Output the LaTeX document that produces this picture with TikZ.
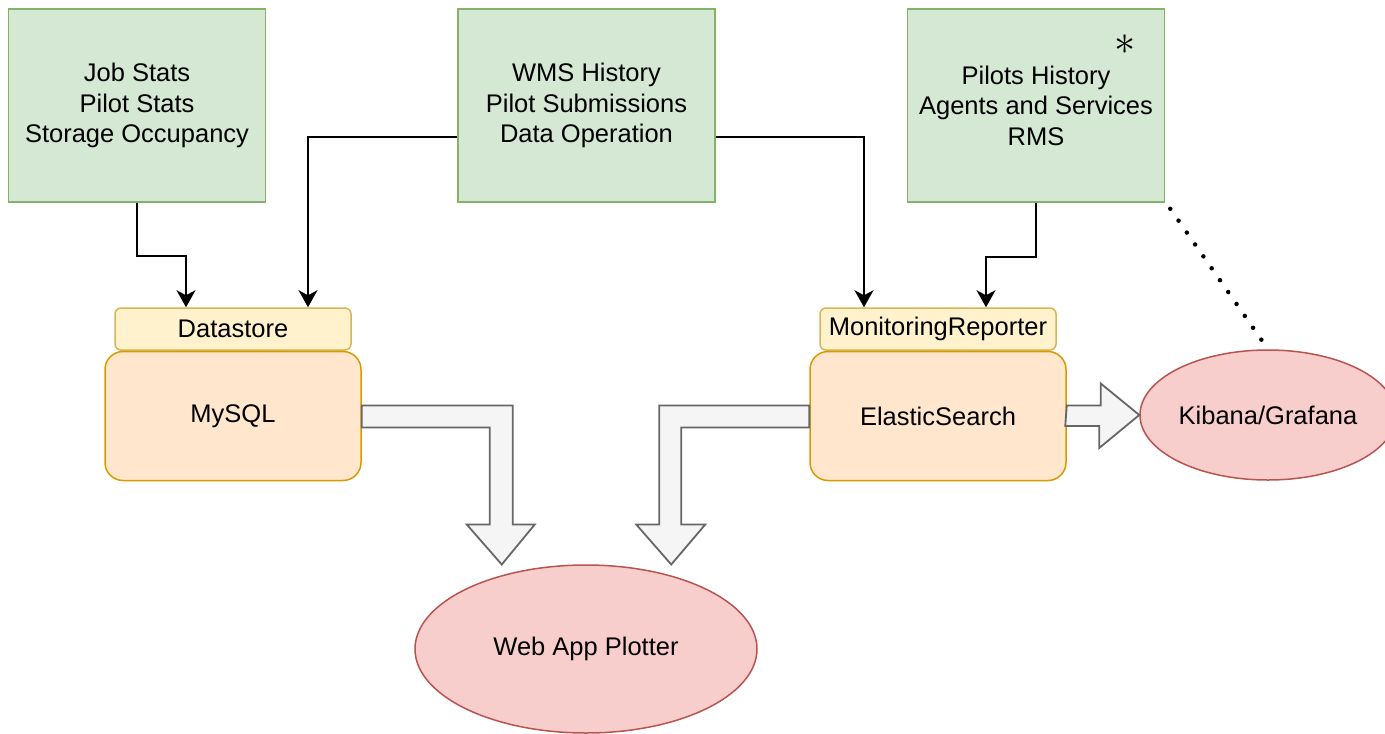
\documentclass[tikz,border=0pt]{standalone}
\usepackage{fontspec}
\setmainfont{Liberation Sans}
\usetikzlibrary{arrows.meta,positioning,shapes.geometric,calc}
\definecolor{grfill}{HTML}{D5E8D4}
\definecolor{grline}{HTML}{82B366}
\definecolor{ylfill}{HTML}{FFF2CC}
\definecolor{ylline}{HTML}{D6B656}
\definecolor{orfill}{HTML}{FFE6CC}
\definecolor{orline}{HTML}{D79B00}
\definecolor{rdfill}{HTML}{F8CECC}
\definecolor{rdline}{HTML}{B85450}
\definecolor{gyfill}{HTML}{F5F5F5}
\definecolor{gyline}{HTML}{666666}

\begin{document}
\begin{tikzpicture}
    [x=1pt, y=-1pt, font=\fontsize{25.5}{30.5}\selectfont,
    % STYLES
    % The source style is used for the green boxes with the data sources
    source/.style={rectangle, draw=grline, fill=grfill, line width=1.5pt, minimum width=257pt, minimum height=193pt, align=center, inner sep=0pt},
    % The tag style is used for the small label on top of each store
    tag/.style={rectangle, rounded corners=6pt, draw=ylline, fill=ylfill, line width=1.5pt, minimum width=236pt, minimum height=42pt, inner sep=0pt},
    % The store style is used for the databases
    store/.style={rectangle, rounded corners=18pt, draw=orline, fill=orfill, line width=1.5pt, minimum width=256pt, minimum height=129pt, inner sep=0pt},
    % The viewer style is used for the ellipses
    viewer/.style={ellipse, draw=rdline, fill=rdfill, line width=1.5pt, inner sep=0pt},
    link/.style={line width=1.8pt, -{Stealth[length=17pt, width=19pt, inset=5pt]}},
    fat/.style={draw=gyline, fill=gyfill, line width=1.8pt, line join=miter}]

    \useasboundingbox (0,0) rectangle (1385,734);

    % Draw sources
    \node [source] at (137,105.5) (a) {Job Stats\\Pilot Stats\\Storage Occupancy};
    \node [source, right=191pt of a] (b) {WMS History\\Pilot Submissions\\Data Operation};
    \node [source, right=191pt of b] (c) {Pilots History\\Agents and Services\\RMS};
    \node at (1125,45) (star) {\scalebox{1.7}{$\ast$}};

    % Draw stores
    \node [tag] at (233,329) (ds) {Datastore};
    \node [store, below=0pt of ds] (mysql) {MySQL};
    \node [tag] at (938,329) (mr) {MonitoringReporter};
    \node [store, below=0pt of mr] (es) {ElasticSearch};

    % Draw viewers
    \node [viewer, minimum width=342pt, minimum height=168pt] at (586,649) (plot) {Web App Plotter};
    \node [viewer, minimum width=256pt, minimum height=130pt] at (1268,415) (kib) {Kibana/Grafana};

    % Connectors
    \draw[link] (a.south) -- ++(0,53) -| ([xshift=-47pt]ds.north);
    \draw[link] ([yshift=-31.5pt]b.west) -| ([xshift=75pt]ds.north);
    \draw[link] ([yshift=-31.5pt]b.east) -| ([xshift=-74pt]mr.north);
    \draw[link] (c.south) -- ++(0,54) -| ([xshift=48pt]mr.north);
    \draw[line width=4.5pt, line cap=round, dash pattern=on 0pt off 14.5pt]
        ([shift={(5pt,-6pt)}]c.south east) -- (kib.north);

    % Fat arrows
    \draw[fat] ([yshift=10.5pt]mysql.east) -- ++(151,0) -- ++(0,119) -- ++(22,0)
        -- ++(-33,40) -- ++(-35,-40) -- ++(23,0) -- ++(0,-97) -- ++(-128,0) -- cycle;
    \draw[fat] ([yshift=10.5pt]es.west) -- ++(-150,0) -- ++(0,119) -- ++(-23,0)
        -- ++(35,40) -- ++(34,-40) -- ++(-24,0) -- ++(0,-97) -- ++(128,0) -- cycle;
    \draw[fat] ([yshift=10.5pt]es.east) -- ++(34,0) -- ++(0,-22) -- (kib.west)
        -- ++(-40,33) -- ++(0,-22) -- ++(-34,0) -- cycle;
\end{tikzpicture}
\end{document}
